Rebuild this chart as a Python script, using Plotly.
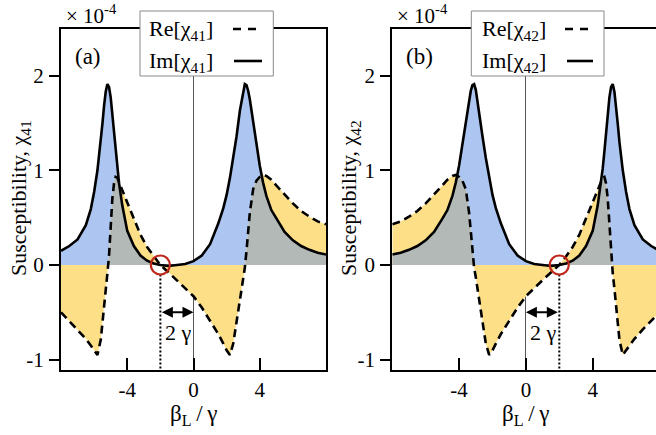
import plotly.graph_objects as go

# ---------------- data (units of 1e-4) ----------------
beta_a = [-8.0, -7.5, -7.0, -6.5, -6.2, -6.0, -5.8, -5.6, -5.5, -5.4,
          -5.3, -5.2, -5.1, -5.0, -4.9, -4.8, -4.7, -4.6, -4.5, -4.3,
          -4.0, -3.6, -3.2, -2.8, -2.4, -2.0, -1.5, -1.0, -0.5, 0.0,
          0.5, 1.0, 1.5, 1.8, 2.0, 2.2, 2.4, 2.6, 2.8, 3.0,
          3.1, 3.2, 3.3, 3.4, 3.6, 3.8, 4.0, 4.2, 4.4, 4.7,
          5.0, 5.5, 6.0, 6.5, 7.0, 7.5, 8.0]
im_a = [0.15, 0.20, 0.27, 0.42, 0.59, 0.77, 1.00, 1.30, 1.49, 1.68,
        1.83, 1.91, 1.88, 1.77, 1.60, 1.40, 1.20, 1.02, 0.87, 0.63,
        0.36, 0.20, 0.10, 0.045, 0.015, 0.00, -0.01, 0.00, 0.01, 0.04,
        0.10, 0.22, 0.44, 0.60, 0.74, 0.92, 1.13, 1.36, 1.63, 1.85,
        1.91, 1.90, 1.84, 1.75, 1.51, 1.27, 1.05, 0.87, 0.73, 0.58,
        0.49, 0.35, 0.26, 0.20, 0.16, 0.13, 0.11]
re_a = [-0.50, -0.59, -0.68, -0.78, -0.85, -0.90, -0.95, -0.79, -0.63, -0.42,
        -0.25, -0.09, 0.10, 0.45, 0.70, 0.86, 0.93, 0.92, 0.88, 0.79,
        0.66, 0.49, 0.32, 0.19, 0.09, 0.00, -0.08, -0.16, -0.24, -0.33,
        -0.45, -0.59, -0.73, -0.83, -0.90, -0.95, -0.83, -0.60, -0.36, -0.13,
        -0.03, 0.15, 0.35, 0.55, 0.80, 0.89, 0.93, 0.95, 0.94, 0.90,
        0.84, 0.74, 0.65, 0.57, 0.51, 0.46, 0.43]

beta_b = [-8.0, -7.5, -7.0, -6.5, -6.0, -5.5, -5.0, -4.7, -4.4, -4.2,
          -4.0, -3.8, -3.6, -3.4, -3.3, -3.2, -3.1, -3.0, -2.8, -2.6,
          -2.4, -2.2, -2.0, -1.8, -1.5, -1.0, -0.5, 0.0, 0.5, 1.0,
          1.5, 2.0, 2.4, 2.8, 3.2, 3.6, 4.0, 4.3, 4.5, 4.6,
          4.7, 4.8, 4.9, 5.0, 5.1, 5.2, 5.3, 5.4, 5.5, 5.6,
          5.8, 6.0, 6.2, 6.5, 7.0, 7.5, 8.0]
im_b = [0.11, 0.13, 0.16, 0.20, 0.26, 0.35, 0.49, 0.58, 0.73, 0.87,
        1.05, 1.27, 1.51, 1.75, 1.84, 1.90, 1.91, 1.85, 1.63, 1.36,
        1.13, 0.92, 0.74, 0.60, 0.44, 0.22, 0.10, 0.04, 0.01, 0.00,
        -0.01, 0.00, 0.015, 0.045, 0.10, 0.20, 0.36, 0.63, 0.87, 1.02,
        1.20, 1.40, 1.60, 1.77, 1.88, 1.91, 1.83, 1.68, 1.49, 1.30,
        1.00, 0.77, 0.59, 0.42, 0.27, 0.20, 0.15]
re_b = [0.43, 0.46, 0.51, 0.57, 0.65, 0.74, 0.84, 0.90, 0.94, 0.95,
        0.93, 0.89, 0.80, 0.55, 0.35, 0.15, -0.03, -0.13, -0.36, -0.60,
        -0.83, -0.95, -0.90, -0.83, -0.73, -0.59, -0.45, -0.33, -0.24, -0.16,
        -0.08, 0.00, 0.09, 0.19, 0.32, 0.49, 0.66, 0.79, 0.88, 0.92,
        0.93, 0.86, 0.70, 0.45, 0.10, -0.09, -0.25, -0.42, -0.63, -0.79,
        -0.95, -0.90, -0.85, -0.78, -0.68, -0.59, -0.50]

cross_a = [-2.0]      # zero crossing of Re marked by the red circle
cross_b = [2.0]
arrow_y = -0.5
x_ticks = [-4, 0, 4]
x_ticktext = ["-4", "0", "4"]
y_ticks = [-1, 0, 1, 2]
y_ticktext = ["-1", "0", "1", "2"]

# ---------------- styling ----------------
W, H = 656, 435
FONT = "Liberation Serif"
BLUE = "#adc6f1"
YELLOW = "#fddf88"
GREY = "#b3b9b6"
RED = "#c0281c"
YR = [-1.109, 2.492]


def px(x):
    return x / W


def py(y):
    return 1 - y / H


def overlap(x, a, b):
    """Piecewise-linear max(0, min(a, b)) with crossing points inserted."""
    xs, ys = [], []
    for i in range(len(x)):
        if i > 0:
            ts = []
            for f0, f1 in ((a[i-1] - b[i-1], a[i] - b[i]),
                           (a[i-1], a[i]), (b[i-1], b[i])):
                if f0 * f1 < 0:
                    ts.append(f0 / (f0 - f1))
            for t in sorted(ts):
                xx = x[i-1] + t * (x[i] - x[i-1])
                aa = a[i-1] + t * (a[i] - a[i-1])
                bb = b[i-1] + t * (b[i] - b[i-1])
                xs.append(xx)
                ys.append(max(0.0, min(aa, bb)))
        xs.append(x[i])
        ys.append(max(0.0, min(a[i], b[i])))
    return xs, ys


fig = go.Figure()


def add_panel(xa, ya, beta, re, im, cross):
    fig.add_trace(go.Scatter(x=beta, y=im, xaxis=xa, yaxis=ya, mode="lines",
                             fill="tozeroy", fillcolor=BLUE, line=dict(width=0),
                             hoverinfo="skip", showlegend=False))
    fig.add_trace(go.Scatter(x=beta, y=re, xaxis=xa, yaxis=ya, mode="lines",
                             fill="tozeroy", fillcolor=YELLOW, line=dict(width=0),
                             hoverinfo="skip", showlegend=False))
    ox, oy = overlap(beta, re, im)
    fig.add_trace(go.Scatter(x=ox, y=oy, xaxis=xa, yaxis=ya, mode="lines",
                             fill="tozeroy", fillcolor=GREY, line=dict(width=0),
                             hoverinfo="skip", showlegend=False))
    fig.add_trace(go.Scatter(x=beta, y=re, xaxis=xa, yaxis=ya, mode="lines",
                             line=dict(color="black", width=2.6, dash="8px,5px"),
                             showlegend=False))
    fig.add_trace(go.Scatter(x=beta, y=im, xaxis=xa, yaxis=ya, mode="lines",
                             line=dict(color="black", width=2.6),
                             showlegend=False))
    # dotted marker line and circle at Re zero crossing
    fig.add_trace(go.Scatter(x=[cross[0], cross[0]], y=[-0.1, YR[0]],
                             xaxis=xa, yaxis=ya, mode="lines",
                             line=dict(color="black", width=2, dash="2px,2px"),
                             showlegend=False))
    fig.add_trace(go.Scatter(x=cross, y=[0], xaxis=xa, yaxis=ya, mode="markers",
                             marker=dict(symbol="circle-open", size=19, color=RED,
                                         line=dict(color=RED, width=2.2)),
                             showlegend=False))


add_panel("x", "y", beta_a, re_a, im_a, cross_a)
add_panel("x2", "y2", beta_b, re_b, im_b, cross_b)

axis_common = dict(showline=True, linecolor="black", linewidth=2,
                   showgrid=False, zeroline=True, zerolinewidth=1,
                   tickfont=dict(family=FONT, size=21, color="black"),
                   tickwidth=2, tickcolor="black", layer="above traces",
                   automargin=False)

xa = dict(axis_common, ticks="inside", ticklen=12, tickvals=x_ticks,
          ticktext=x_ticktext, zerolinecolor="#555555", mirror=True,
          ticklabelstandoff=0)
ya = dict(axis_common, ticks="outside", ticklen=10, tickvals=y_ticks,
          ticktext=y_ticktext, zerolinecolor="#8c8c8c", range=YR,
          domain=[py(370), py(29)], ticklabelstandoff=1)

fig.update_layout(
    width=W, height=H, margin=dict(l=0, r=0, t=0, b=0),
    paper_bgcolor="white", plot_bgcolor="white", showlegend=False,
    xaxis=dict(xa, domain=[px(61), px(326)], range=[-8, 8], anchor="y"),
    yaxis=dict(ya, anchor="x", mirror=True),
    xaxis2=dict(xa, domain=[px(392.3), 1.0], range=[-8, 7.79], anchor="y2"),
    yaxis2=dict(ya, anchor="x2", mirror=False),
)

anns = []
shapes = []
panels = [
    dict(xr="x", yr="y", x0=61, cross=cross_a, label="(a)", sub="41",
         box=(140, 273.3), text_x=147, dash=(233, 258), solid=(234, 262),
         ytitle_x=20, xtitle_x=193.7),
    dict(xr="x2", yr="y2", x0=392.3, cross=cross_b, label="(b)", sub="42",
         box=(471.3, 604), text_x=480, dash=(565, 591), solid=(567, 593),
         ytitle_x=350, xtitle_x=525.7),
]


def text_ann(x, y, text, size, **kw):
    d = dict(x=x, y=y, xref="paper", yref="paper", text=text, showarrow=False,
             xanchor="center", yanchor="middle",
             font=dict(family=FONT, size=size, color="black"))
    d.update(kw)
    return d


for p in panels:
    # double arrow between 0 and the crossing
    anns.append(dict(x=0, y=arrow_y, ax=p["cross"][0], ay=arrow_y,
                     xref=p["xr"], yref=p["yr"], axref=p["xr"], ayref=p["yr"],
                     text="", showarrow=True, arrowhead=2, arrowsize=1.1,
                     arrowwidth=2, arrowcolor="black", arrowside="end+start",
                     standoff=0, startstandoff=0))
    anns.append(dict(x=p["cross"][0] / 2 + 0.07, y=-0.71, xref=p["xr"], yref=p["yr"],
                     text="2 γ", showarrow=False, xanchor="center", yanchor="middle",
                     font=dict(family=FONT, size=22, color="black")))
    anns.append(text_ann(px(p["x0"] + 27), py(56), p["label"], 23))
    anns.append(text_ann(px(p["x0"] + 3), py(14), "× 10<sup>-4</sup>", 21,
                         xanchor="left"))
    anns.append(text_ann(px(p["ytitle_x"]), py(198),
                         "Susceptibility, χ<sub>%s</sub>" % p["sub"], 22,
                         textangle=-90))
    anns.append(text_ann(px(p["xtitle_x"]), py(415),
                         "β<sub>L</sub>\u2009/\u2009γ", 23))
    # legend box
    shapes.append(dict(type="rect", xref="paper", yref="paper", layer="above",
                       x0=px(p["box"][0]), x1=px(p["box"][1]),
                       y0=py(76), y1=py(11), fillcolor="white",
                       line=dict(color="#8a8a8a", width=1)))
    shapes.append(dict(type="line", xref="paper", yref="paper", layer="above",
                       x0=px(p["dash"][0]), x1=px(p["dash"][1]), y0=py(29), y1=py(29),
                       line=dict(color="black", width=2.6, dash="8px,7px")))
    shapes.append(dict(type="line", xref="paper", yref="paper", layer="above",
                       x0=px(p["solid"][0]), x1=px(p["solid"][1]), y0=py(61), y1=py(61),
                       line=dict(color="black", width=2.6)))
    anns.append(text_ann(px(p["text_x"]), py(30), "Re[χ<sub>%s</sub>]" % p["sub"],
                         22, xanchor="left"))
    anns.append(text_ann(px(p["text_x"]), py(62), "Im[χ<sub>%s</sub>]" % p["sub"],
                         22, xanchor="left"))

fig.update_layout(annotations=anns, shapes=shapes)
fig.write_html("out.html",
               config={"displayModeBar": False, "staticPlot": True},
               post_script="document.body.style.margin='0px';"
                           "document.body.style.overflow='hidden';")
